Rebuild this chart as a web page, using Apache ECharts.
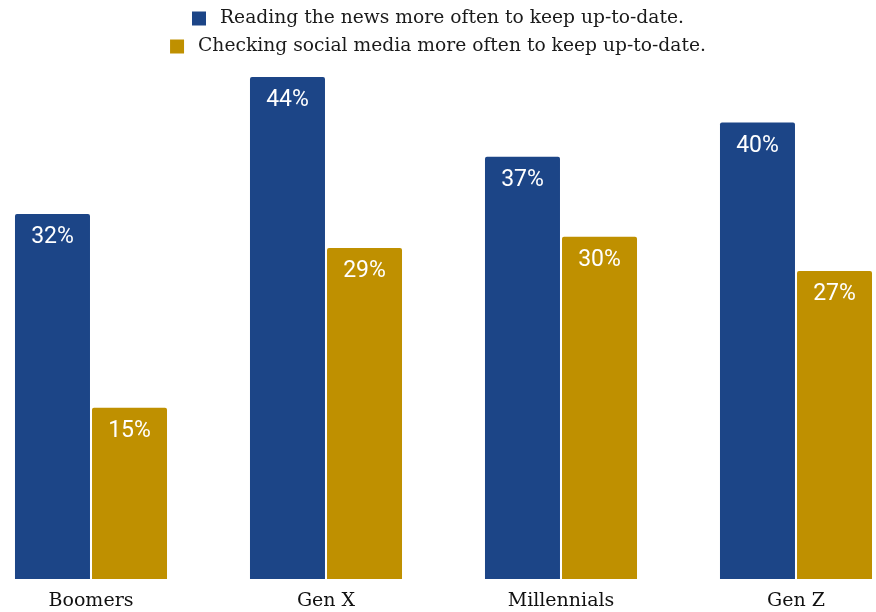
<!DOCTYPE html>
<html>
<head>
<meta charset="utf-8">
<script src="https://cdn.jsdelivr.net/npm/echarts@6/dist/echarts.min.js"></script>
<style>
  html, body { margin: 0; padding: 0; background: #ffffff; }
  #chart { width: 876px; height: 612px; }
</style>
</head>
<body>
<div id="chart"></div>
<script>
// Generations and share of each group by habit
const categories = ['Boomers', 'Gen X', 'Millennials', 'Gen Z'];
const newsLabel = 'Reading the news more often to keep up-to-date.';
const socialLabel = 'Checking social media more often to keep up-to-date.';
const newsValues = [32, 44, 37, 40];
const socialValues = [15, 29, 30, 27];

const BLUE = '#1c4587';
const GOLD = '#bf9000';
const SERIF = '"DejaVu Serif", Georgia, serif';

const chart = echarts.init(document.getElementById('chart'));

function barSeries(name, data, color) {
  return {
    name: name,
    type: 'bar',
    data: data,
    barWidth: 75,
    barGap: '2.7%',
    clip: false,
    itemStyle: { color: color, borderRadius: [2, 2, 0, 0] },
    label: {
      show: true,
      position: 'insideTop',
      distance: 12,
      color: '#ffffff',
      fontFamily: 'Roboto, sans-serif',
      fontSize: 23,
      formatter: p => p.value + '%'
    }
  };
}

function legendRow(label, top) {
  return {
    data: [label],
    top: top,
    left: 'center',
    itemWidth: 14,
    itemHeight: 14,
    icon: 'rect',
    textStyle: { fontFamily: SERIF, fontSize: 18.7, color: '#1a1a1a', padding: [0, 0, 0, 9] }
  };
}

chart.setOption({
  animation: false,
  legend: [legendRow(newsLabel, 4), legendRow(socialLabel, 32)],
  // group centres sit on the category points; bars spread either side
  grid: { left: 91, right: 80, top: 8.5, bottom: 33, containLabel: false },
  xAxis: {
    type: 'category',
    data: categories,
    boundaryGap: false,
    axisLine: { show: false },
    axisTick: { show: false },
    axisLabel: { fontFamily: SERIF, fontSize: 19, color: '#111', margin: 13 }
  },
  yAxis: {
    type: 'value',
    min: 0,
    max: 50,
    show: false,
    splitLine: { show: false }
  },
  series: [
    barSeries(newsLabel, newsValues, BLUE),
    barSeries(socialLabel, socialValues, GOLD)
  ]
});
</script>
</body>
</html>
